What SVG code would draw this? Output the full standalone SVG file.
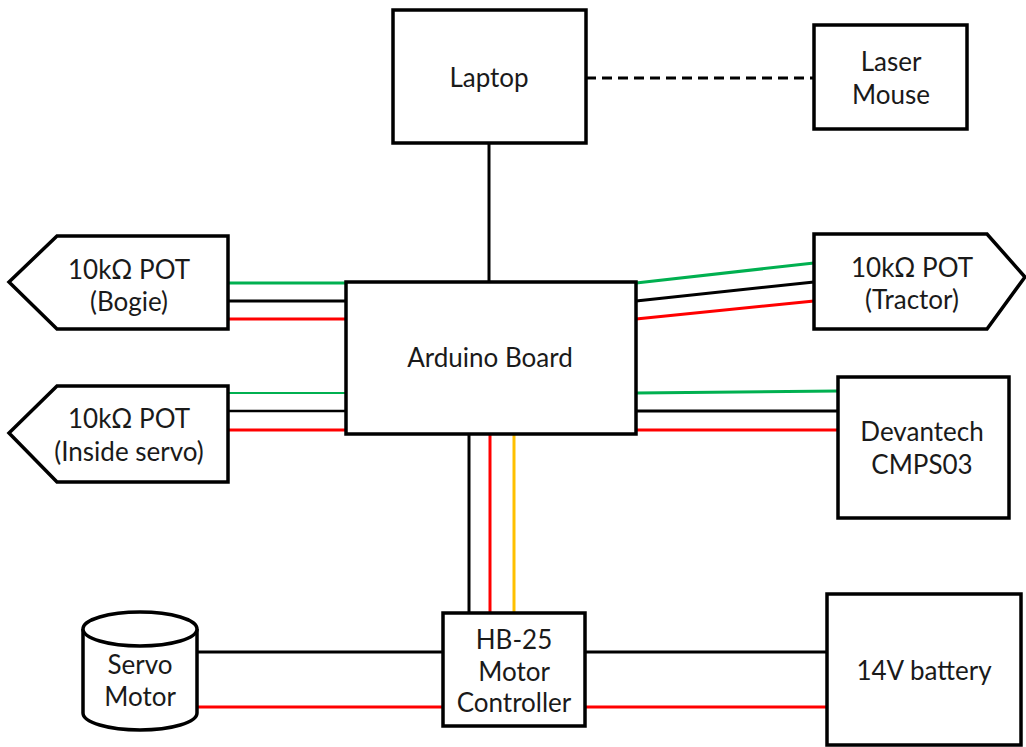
<svg xmlns="http://www.w3.org/2000/svg" width="1026" height="747" viewBox="0 0 1026 747">
<style>
.box{fill:#fff;stroke:#000;stroke-width:3.5;stroke-linejoin:miter}
.t{font-family:Lato,"Liberation Sans",sans-serif;font-size:26px;fill:#1a1a1a;text-anchor:middle}
.w{fill:none;stroke-width:3}
.k{stroke:#000}
.r{stroke:#ff0000}
.g{stroke:#00b050}
.o{stroke:#ffc000}
.d{stroke:#000;stroke-width:3;stroke-dasharray:10 6;fill:none}
</style>
<rect width="1026" height="747" fill="#fff"/>
<g id="connectors">
<line class="d" x1="586" y1="78" x2="814" y2="78"/>
<line class="w k" x1="489" y1="143" x2="489" y2="282"/>
<line class="w g" x1="228" y1="283" x2="346" y2="283"/>
<line class="w k" x1="228" y1="301" x2="346" y2="301"/>
<line class="w r" x1="228" y1="319" x2="346" y2="319"/>
<line class="w g" x1="228" y1="393" x2="346" y2="393" style="stroke-width:2"/>
<line class="w k" x1="228" y1="411" x2="346" y2="411" style="stroke-width:2.5"/>
<line class="w r" x1="228" y1="430" x2="346" y2="430"/>
<line class="w g" x1="636" y1="283" x2="814" y2="263"/>
<line class="w k" x1="636" y1="301" x2="814" y2="282"/>
<line class="w r" x1="636" y1="319" x2="814" y2="301"/>
<line class="w g" x1="636" y1="393" x2="838" y2="391"/>
<line class="w k" x1="636" y1="411" x2="838" y2="411"/>
<line class="w r" x1="636" y1="430" x2="838" y2="430"/>
<line class="w k" x1="469" y1="434" x2="469" y2="613"/>
<line class="w r" x1="490" y1="434" x2="490" y2="613"/>
<line class="w o" x1="514" y1="434" x2="514" y2="613"/>
<line class="w k" x1="197" y1="652" x2="443" y2="652"/>
<line class="w r" x1="197" y1="707" x2="443" y2="707"/>
<line class="w k" x1="585" y1="652" x2="827" y2="652"/>
<line class="w r" x1="585" y1="707" x2="827" y2="707"/>
</g>
<g id="laptop">
<rect class="box" x="393" y="10" width="193" height="133"/>
<text class="t" x="489" y="87">Laptop</text>
</g>
<g id="laser-mouse">
<rect class="box" x="814" y="25" width="153" height="104"/>
<text class="t" x="891" y="71">Laser</text>
<text class="t" x="891" y="104">Mouse</text>
</g>
<g id="arduino">
<rect class="box" x="346" y="282" width="290" height="152"/>
<text class="t" x="490" y="367">Arduino Board</text>
</g>
<g id="pot-bogie">
<path class="box" d="M228,236 L57,236 L9,282 L57,329 L228,329 Z"/>
<text class="t" x="129" y="279">10kΩ POT</text>
<text class="t" x="129" y="311">(Bogie)</text>
</g>
<g id="pot-inside-servo">
<path class="box" d="M228,386 L57,386 L9,433 L57,482 L228,482 Z"/>
<text class="t" x="129" y="428">10kΩ POT</text>
<text class="t" x="129" y="461">(Inside servo)</text>
</g>
<g id="pot-tractor">
<path class="box" d="M814,234 L987,234 L1025,277 L987,329 L814,329 Z"/>
<text class="t" x="912" y="277">10kΩ POT</text>
<text class="t" x="912" y="309">(Tractor)</text>
</g>
<g id="devantech">
<rect class="box" x="838" y="377" width="171" height="141"/>
<text class="t" x="922" y="441">Devantech</text>
<text class="t" x="922" y="474">CMPS03</text>
</g>
<g id="hb25">
<rect class="box" x="443" y="613" width="142" height="113"/>
<text class="t" x="514" y="649">HB-25</text>
<text class="t" x="514" y="681">Motor</text>
<text class="t" x="514" y="712">Controller</text>
</g>
<g id="servo-motor">
<path class="box" d="M83,629 L83,713 A57,17 0 0 0 197,713 L197,629"/>
<ellipse class="box" cx="140" cy="629" rx="57" ry="17"/>
<text class="t" x="140" y="674">Servo</text>
<text class="t" x="140" y="706">Motor</text>
</g>
<g id="battery">
<rect class="box" x="827" y="594" width="194" height="151"/>
<text class="t" x="924" y="680">14V battery</text>
</g>
</svg>
